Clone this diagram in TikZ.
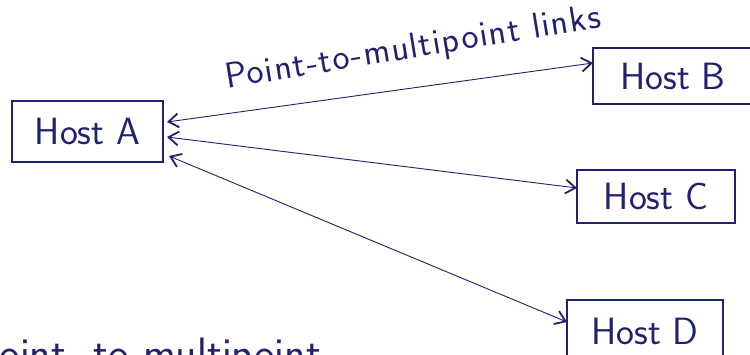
\documentclass[tikz,border=0pt]{standalone}
\usepackage{fontspec}
\usetikzlibrary{arrows.meta}
\definecolor{ink}{RGB}{32,34,112}
\newfontfamily\lblfont[LetterSpace=4]{Latin Modern Sans}
\begin{document}
\begin{tikzpicture}[x=1pt,y=-1pt,
  hostbox/.style={draw=ink,line width=1.8pt,text=ink,font=\sffamily\fontsize{38}{44}\selectfont,inner sep=0pt},
  link/.style={draw=ink,line width=0.9pt,{Straight Barb[length=10pt,width=14pt,line width=1.8pt]}-{Straight Barb[length=10pt,width=14pt,line width=1.8pt]}},
  lbl/.style={text=ink,font=\lblfont\fontsize{36}{42}\selectfont,inner sep=0pt}]
\useasboundingbox (0,0) rectangle (750,354);
\clip (0,0) rectangle (750,354);
\fill[white] (0,0) rectangle (750,354);
% hosts
\node[hostbox,minimum width=151pt,minimum height=61pt] (A) at (87.5,131.5) {Host A};
\node[hostbox,minimum width=160pt,minimum height=56pt] (B) at (673,76) {Host B};
\node[hostbox,minimum width=158pt,minimum height=53pt] (C) at (656,196.5) {Host C};
\node[hostbox,minimum width=156pt,minimum height=62pt] (D) at (645,331) {Host D};
% anchor points
\coordinate (a1) at (167,122);
\coordinate (a2) at (167,137);
\coordinate (a3) at (169,156);
\coordinate (b1) at (593,63);
\coordinate (c1) at (577,188);
\coordinate (d1) at (567,322);
\draw[link] (a1) -- (b1);
\draw[link] (a2) -- (c1);
\draw[link] (a3) -- (d1);
% labels
\node[lbl,rotate=9.3] (L1) at (413,49) {Point-to-multipoint links};
\node[lbl,font=\sffamily\fontsize{44}{50}\selectfont,anchor=base west] (L2) at (-26,368) {Point- to-multipoint};
\end{tikzpicture}
\end{document}
